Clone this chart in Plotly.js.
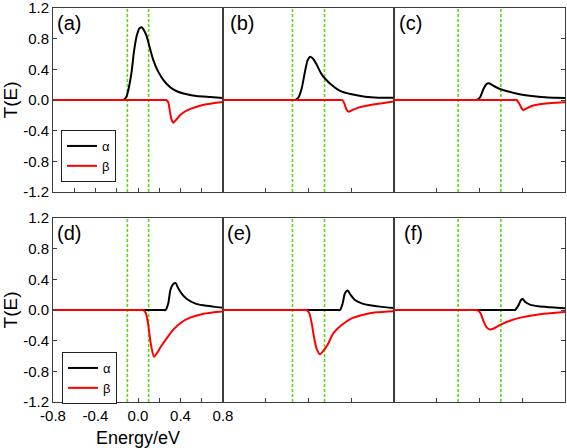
<!DOCTYPE html>
<html>
<head>
<meta charset="utf-8">
<script src="https://cdn.plot.ly/plotly-3.0.1.min.js"></script>
<style>html,body{margin:0;padding:0;background:#fff;}#chart{width:567px;height:448px;}</style>
</head>
<body>
<div id="chart"></div>
<script>
// ---- Data ----
const seriesNames = ['α', 'β'];
const panelLabels = ['(a)', '(b)', '(c)', '(d)', '(e)', '(f)'];
// half width of the bias window (green dotted lines) for each panel
const windowHalf = [0.1, 0.15, 0.2, 0.1, 0.15, 0.2];

const xTickVals = [-0.8, -0.6, -0.4, -0.2, 0, 0.2, 0.4, 0.6, 0.8];
const xTickText = ['-0.8', '', '-0.4', '', '0.0', '', '0.4', '', '0.8'];
const xTickValsMajor = [-0.8, -0.4, 0, 0.4, 0.8];
const yTickVals = [-1.2, -0.8, -0.4, 0, 0.4, 0.8, 1.2];
const yTickText = ['-1.2', '-0.8', '-0.4', '0.0', '0.4', '0.8', '1.2'];

// (a)
const Ea_alpha = [-0.8, -0.17, -0.14, -0.11, -0.085, -0.06, -0.038, -0.013, 0.013, 0.035, 0.056, 0.082, 0.113, 0.144, 0.19, 0.24, 0.30, 0.36, 0.46, 0.55, 0.68, 0.8];
const Ta_alpha = [0, 0, 0, 0.04, 0.17, 0.37, 0.63, 0.83, 0.935, 0.95, 0.91, 0.83, 0.67, 0.52, 0.37, 0.26, 0.17, 0.117, 0.074, 0.052, 0.038, 0.025];
const Ea_beta = [-0.8, 0.235, 0.265, 0.285, 0.30, 0.317, 0.332, 0.358, 0.395, 0.442, 0.505, 0.583, 0.678, 0.8];
const Ta_beta = [0, 0, 0, -0.03, -0.15, -0.26, -0.296, -0.26, -0.20, -0.15, -0.11, -0.074, -0.048, -0.025];
// (b)
const Eb_alpha = [-0.8, -0.155, -0.125, -0.095, -0.064, -0.033, -0.008, 0.017, 0.045, 0.077, 0.117, 0.154, 0.217, 0.295, 0.404, 0.529, 0.653, 0.8];
const Tb_alpha = [0, 0, 0, 0.03, 0.15, 0.37, 0.52, 0.565, 0.535, 0.46, 0.35, 0.28, 0.196, 0.12, 0.074, 0.043, 0.03, 0.028];
const Eb_beta = [-0.8, 0.287, 0.317, 0.335, 0.351, 0.373, 0.404, 0.466, 0.544, 0.638, 0.747, 0.8];
const Tb_beta = [0, 0, 0, -0.043, -0.11, -0.152, -0.135, -0.10, -0.074, -0.052, -0.03, -0.018];
// (c)
const Ec_alpha = [-0.8, -0.06, -0.03, 0.005, 0.036, 0.067, 0.089, 0.129, 0.192, 0.27, 0.363, 0.488, 0.613, 0.706, 0.8];
const Tc_alpha = [0, 0, 0, 0.035, 0.14, 0.21, 0.217, 0.187, 0.143, 0.11, 0.078, 0.052, 0.035, 0.03, 0.026];
const Ec_beta = [-0.8, 0.318, 0.348, 0.37, 0.395, 0.41, 0.44, 0.488, 0.582, 0.675, 0.8];
const Tc_beta = [0, 0, 0, -0.043, -0.109, -0.13, -0.109, -0.078, -0.052, -0.039, -0.03];
// (d)
const Ed_alpha = [-0.8, 0.23, 0.26, 0.285, 0.305, 0.33, 0.355, 0.38, 0.42, 0.46, 0.536, 0.615, 0.709, 0.8];
const Td_alpha = [0, 0, 0, 0.087, 0.26, 0.336, 0.35, 0.28, 0.197, 0.144, 0.087, 0.061, 0.044, 0.03];
const Ed_beta = [-0.8, 0.02, 0.05, 0.075, 0.097, 0.12, 0.15, 0.18, 0.214, 0.27, 0.33, 0.41, 0.49, 0.6, 0.7, 0.8];
const Td_beta = [0, 0, 0, -0.044, -0.2, -0.44, -0.61, -0.56, -0.48, -0.37, -0.26, -0.16, -0.1, -0.055, -0.033, -0.02];
// (e)
const Ee_alpha = [-0.8, 0.265, 0.295, 0.32, 0.341, 0.367, 0.395, 0.435, 0.498, 0.575, 0.669, 0.8];
const Te_alpha = [0, 0, 0, 0.087, 0.218, 0.253, 0.196, 0.131, 0.087, 0.061, 0.044, 0.026];
const Ee_beta = [-0.8, -0.047, -0.017, 0.008, 0.03, 0.051, 0.075, 0.107, 0.14, 0.176, 0.232, 0.31, 0.404, 0.513, 0.638, 0.8];
const Te_beta = [0, 0, 0, -0.044, -0.175, -0.35, -0.5, -0.576, -0.53, -0.46, -0.306, -0.197, -0.109, -0.061, -0.03, -0.015];
// (f)
const Ef_alpha = [-0.8, 0.302, 0.332, 0.363, 0.388, 0.404, 0.432, 0.472, 0.55, 0.66, 0.8];
const Tf_alpha = [0, 0, 0, 0.057, 0.13, 0.144, 0.1, 0.07, 0.048, 0.035, 0.022];
const Ef_beta = [-0.8, -0.056, -0.026, 0.005, 0.036, 0.067, 0.098, 0.129, 0.198, 0.285, 0.395, 0.535, 0.66, 0.8];
const Tf_beta = [0, 0, 0, -0.03, -0.14, -0.227, -0.253, -0.245, -0.192, -0.14, -0.096, -0.061, -0.044, -0.026];

const panels = [
  [Ea_alpha, Ta_alpha, Ea_beta, Ta_beta],
  [Eb_alpha, Tb_alpha, Eb_beta, Tb_beta],
  [Ec_alpha, Tc_alpha, Ec_beta, Tc_beta],
  [Ed_alpha, Td_alpha, Ed_beta, Td_beta],
  [Ee_alpha, Te_alpha, Ee_beta, Te_beta],
  [Ef_alpha, Tf_alpha, Ef_beta, Tf_beta]
];

// ---- Build ----
const W = 567, H = 448;
const colX = [[53, 223], [223, 394], [394, 565]];
const rowY = [[8, 192], [218, 402]];
const frame = '#3c3c3c';
const green = '#55dd11';
const traces = [];
const legendStyle = {xanchor: 'left', yanchor: 'top', bgcolor: '#fff', bordercolor: '#222',
                     borderwidth: 1, font: {size: 13}, tracegroupgap: 0, itemwidth: 30};
const layout = {
  width: W, height: H,
  margin: {l: 0, r: 0, t: 0, b: 0},
  paper_bgcolor: '#fff', plot_bgcolor: '#fff',
  font: {family: 'Liberation Sans, Arial, sans-serif', size: 15, color: '#000'},
  showlegend: true,
  legend: Object.assign({x: 61 / W, y: 1 - 130 / H}, legendStyle),
  legend2: Object.assign({x: 62 / W, y: 1 - 352 / H}, legendStyle),
  annotations: []
};
const labelOffset = [0.012, 0.03, 0.015, 0.012, 0.012, 0.045];

for (let i = 0; i < 6; i++) {
  const r = Math.floor(i / 3), c = i % 3;
  const sfx = i === 0 ? '' : String(i + 1);
  const xa = 'x' + sfx, ya = 'y' + sfx;
  const w = windowHalf[i];
  // bias window lines
  [-w, w].forEach(v => traces.push({
    type: 'scatter', mode: 'lines', x: [v, v], y: [-1.2, 1.2], xaxis: xa, yaxis: ya,
    line: {color: green, width: 1.6, dash: '3px,2px'}, showlegend: false, hoverinfo: 'skip'
  }));
  const [E1, T1, E2, T2] = panels[i];
  const leg = i === 0 ? 'legend' : 'legend2';
  const showL = (i === 0 || i === 3);
  traces.push({type: 'scatter', mode: 'lines', x: E1, y: T1, xaxis: xa, yaxis: ya, name: seriesNames[0],
    line: {color: '#000', width: 2, shape: 'spline', smoothing: 0.6}, showlegend: showL, legend: leg});
  traces.push({type: 'scatter', mode: 'lines', x: E2, y: T2, xaxis: xa, yaxis: ya, name: seriesNames[1],
    line: {color: '#ff0000', width: 2, shape: 'spline', smoothing: 0.6}, showlegend: showL, legend: leg});

  const left = c === 0, bottomLabels = (i === 3), minorTicks = c === 0;
  layout['xaxis' + sfx] = {
    domain: [colX[c][0] / W, colX[c][1] / W], anchor: ya, range: [-0.8, 0.8],
    showgrid: false, zeroline: false, showline: true, mirror: true, linecolor: frame, linewidth: 1,
    ticks: 'inside', ticklen: 4, tickcolor: frame,
    tickmode: 'array', tickvals: minorTicks ? xTickVals : xTickValsMajor,
    ticktext: minorTicks ? xTickText : xTickValsMajor.map(String),
    showticklabels: bottomLabels, tickfont: {size: 15}, ticklabeloverflow: 'allow',
    title: bottomLabels ? {text: 'Energy/eV', font: {size: 18}, standoff: 8} : {text: ''}
  };
  layout['yaxis' + sfx] = {
    domain: [1 - rowY[r][1] / H, 1 - rowY[r][0] / H], anchor: xa, range: [-1.2, 1.2],
    showgrid: false, zeroline: false, showline: true, mirror: true, linecolor: frame, linewidth: 1,
    side: c === 2 ? 'right' : 'left',
    ticks: (c === 1) ? '' : 'inside', ticklen: 4, tickcolor: frame,
    tickmode: 'array', tickvals: yTickVals, ticktext: yTickText,
    showticklabels: left, tickfont: {size: 15}, ticklabeloverflow: 'allow',
    title: left ? {text: 'T(E)', font: {size: 19}, standoff: 2} : {text: ''}
  };
  layout.annotations.push({
    text: panelLabels[i], xref: xa + ' domain', yref: ya + ' domain',
    x: labelOffset[i], y: 1 - 15 / 184, xanchor: 'left', yanchor: 'middle',
    showarrow: false, font: {size: 20, color: '#000'}
  });
}

Plotly.newPlot('chart', traces, layout, {staticPlot: true, displayModeBar: false});
</script>
</body>
</html>
